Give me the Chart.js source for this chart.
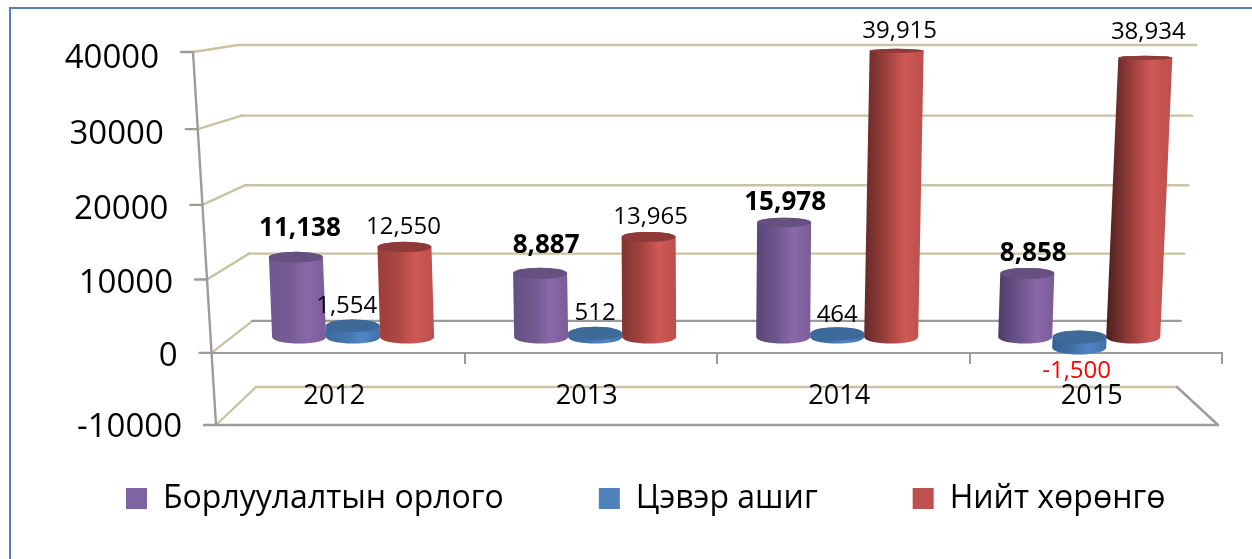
<!DOCTYPE html>
<html>
<head>
<meta charset="utf-8">
<style>
html,body{margin:0;padding:0;background:#fff;overflow:hidden}
#stage{position:relative;width:1252px;height:559px}
#frame{position:absolute;left:9px;top:7px;right:-5px;bottom:-5px;border-left:2px solid #4f81bd;border-top:2px solid #4f81bd}
canvas{position:absolute;left:0;top:0}
</style>
<script src="https://cdn.jsdelivr.net/npm/chart.js@4/dist/chart.umd.js"></script>
</head>
<body>
<div id="stage"><div id="frame"></div><canvas id="c" width="1252" height="559"></canvas></div>
<script>
const categories = ['2012', '2013', '2014', '2015'];
const salesRevenue = [11138, 8887, 15978, 8858];
const netProfit = [1554, 512, 464, -1500];
const totalAssets = [12550, 13965, 39915, 38934];
const seriesNames = ['Борлуулалтын орлого', 'Цэвэр ашиг', 'Нийт хөрөнгө'];
const seriesColors = ['#8064a2', '#4f81bd', '#c0504d'];
const yTicksMin = -10000, yTicksMax = 40000, yStep = 10000;

const FONT = '"Open Sans", sans-serif';
const OLIVE = '#c9c3a3', GRAY = '#9b9b9b';

// Front plane of the 3-D box: ticks bow slightly under perspective.
class PerspectiveScale extends Chart.LinearScale {
  getPixelForValue(v) {
    const p = super.getPixelForValue(v);
    const t = (p - this.top) / this.height;
    return p + 15.5 * t * (1 - t);
  }
}
PerspectiveScale.id = 'perspective';
PerspectiveScale.defaults = Chart.LinearScale.defaults;
Chart.register(PerspectiveScale);

// Plain bar rectangles are replaced by the cylinders drawn in the plugin.
Chart.BarElement.prototype.draw = function () {};

const frontX = p => 193 + (p - 52) * 23 / 373;
const backY = p => 45 + (p - 52) * 342 / 373;
const backLeft = y => 238 + (y - 45) * 18 / 342;
const backRight = y => 1196 - (y - 45) * 19 / 342;

function line(ctx, x1, y1, x2, y2, color) {
  ctx.strokeStyle = color;
  ctx.lineWidth = 2.4;
  ctx.beginPath();
  ctx.moveTo(x1, y1);
  ctx.lineTo(x2, y2);
  ctx.stroke();
}
function mix(a, b, t) {
  const v = a.map((c, i) => Math.round(c + (b[i] - c) * t));
  return 'rgb(' + v.join(',') + ')';
}
const shades = [
  { l: [112, 88, 143], d: [72, 56, 100], m: [118, 92, 148], h: [138, 104, 169], e: [122, 92, 152], top: '#66507f' },
  { l: [58, 106, 158], d: [50, 96, 148], m: [68, 118, 176], h: [79, 134, 198], e: [63, 112, 168], top: '#3d6a99' },
  { l: [168, 67, 63], d: [74, 30, 30], m: [176, 72, 68], h: [207, 88, 85], e: [187, 79, 76], top: '#8e3a38' }
];
const ry = y => Math.max(2, 2 + (y - 50) * 0.016);

function drawCylinder(ctx, el, s) {
  const y0 = Math.min(el.y, el.base), y1 = Math.max(el.y, el.base);
  const hw = el.width / 2;
  const lean = (el.x - 700) * 1e-4 * (y1 - y0);
  const bx = el.x, tx = el.x + lean;
  const t = Math.min(1, Math.max(0, (el.x - 300) / 834));
  const g = ctx.createLinearGradient(Math.min(bx, tx) - hw, 0, Math.max(bx, tx) + hw, 0);
  g.addColorStop(0, mix(s.l, s.d, t));
  g.addColorStop(0.38, mix(s.m, s.d, t * 0.25));
  g.addColorStop(0.68, mix(s.h, s.h, 0));
  g.addColorStop(1, mix(s.e, s.e, 0));
  ctx.fillStyle = g;
  ctx.beginPath();
  ctx.moveTo(tx - hw, y0);
  ctx.lineTo(bx - hw, y1);
  ctx.ellipse(bx, y1, hw, ry(y1), 0, Math.PI, 0, true);
  ctx.lineTo(tx + hw, y0);
  ctx.ellipse(tx, y0, hw, ry(y0), 0, 0, Math.PI, true);
  ctx.closePath();
  ctx.fill();
  ctx.fillStyle = s.top;
  ctx.beginPath();
  ctx.ellipse(tx, y0, hw, ry(y0), 0, 0, Math.PI * 2);
  ctx.fill();
  return { tx, y0, y1 };
}

// [series][category] extra offset of a value label from its default place
const labelNudge = [
  [[4, -9], [6, -8], [1, 0], [6, 0]],
  [[-6, 0], [0, 0], [0, 1], [-3, 0]],
  [[-1, 0], [2, 0], [3, 0], [3, -6]]
];

const boxPlugin = {
  id: 'box3d',
  beforeLayout(chart) {
    const l = chart.legend;
    if (l && !l._wrapped) {
      l._wrapped = true;
      const fit = l.fit;
      l.fit = function () { this.maxWidth = 5000; fit.call(this); this.height = 0; };
    }
  },
  afterLayout(chart) {
    const l = chart.legend, pad = l.options.labels.padding;
    l.left = 126 - pad;
    l.right = chart.width + 300;
    l.width = l.right - l.left;
    l.top = 482.5 - pad;
    l.bottom = chart.height;
    l.height = l.bottom - l.top;
  },
  beforeDraw(chart) {
    const ctx = chart.ctx, y = chart.scales.y, area = chart.chartArea;
    ctx.save();
    ctx.lineCap = 'round';
    const ticks = y.ticks.map(t => t.value);
    const top = y.getPixelForValue(yTicksMax), bot = y.getPixelForValue(yTicksMin);
    ticks.forEach(v => {
      const p = y.getPixelForValue(v), fx = frontX(p), by = backY(p);
      line(ctx, fx, p, backLeft(by), by, OLIVE);
      line(ctx, backLeft(by), by, backRight(by), by, v === 0 ? GRAY : OLIVE);
      line(ctx, fx - 12, p, fx, p, GRAY);
    });
    const bb = backY(bot);
    line(ctx, backRight(bb), bb, area.right - 4, bot, GRAY);
    line(ctx, frontX(bot), bot, area.right - 4, bot, GRAY);
    line(ctx, frontX(top), top, frontX(bot), bot, GRAY);
    ctx.restore();
    y.getLabelItems(area).forEach((item, i) => {
      const p = y.getPixelForTick(i);
      item.options.textAlign = 'right';
      item.options.translation = [frontX(p) - 34, p + 6.5 - (p - 52) * 4 / 373];
    });
  },
  afterDatasetsDraw(chart) {
    const ctx = chart.ctx;
    const places = [];
    chart.data.datasets.forEach((ds, d) => {
      chart.getDatasetMeta(d).data.forEach((el, i) => {
        const c = drawCylinder(ctx, el, shades[d]);
        places.push({ d, i, c, v: ds.data[i].y });
      });
    });
    ctx.save();
    ctx.textAlign = 'center';
    ctx.textBaseline = 'middle';
    places.forEach(({ d, i, c, v }) => {
      const n = labelNudge[d][i];
      ctx.font = (d === 0 ? 'bold 26px ' : '24px ') + FONT;
      ctx.fillStyle = v < 0 ? '#ff0000' : '#000';
      const yy = v < 0 ? c.y1 + 23 : c.y0 - 20;
      ctx.fillText(v.toLocaleString('en-US'), c.tx + n[0], yy + n[1]);
    });
    ctx.restore();
  }
};

const barValues = [salesRevenue, netProfit, totalAssets];

new Chart(document.getElementById('c'), {
  type: 'bar',
  plugins: [boxPlugin],
  data: {
    labels: categories,
    datasets: seriesNames.map((name, s) => ({
      label: name,
      backgroundColor: seriesColors[s],
      borderWidth: 0,
      xAxisID: 'xBar',
      yAxisID: 'yBar',
      barThickness: 54,
      data: barValues[s].map((v, i) => ({ x: i + 1, y: v }))
    }))
  },
  options: {
    responsive: false,
    animation: false,
    events: [],
    layout: { padding: { top: 52, right: 30, bottom: 134, left: 0 } },
    plugins: {
      tooltip: { enabled: false },
      legend: {
        position: 'bottom',
        align: 'start',
        labels: {
          boxWidth: 21,
          boxHeight: 21,
          padding: 95,
          color: '#000',
          font: { family: FONT, size: 32 }
        }
      }
    },
    scales: {
      y: {
        type: 'perspective',
        position: 'left',
        min: yTicksMin,
        max: yTicksMax,
        afterFit(s) { s.width = 212; },
        grid: { display: false },
        border: { display: false },
        ticks: {
          stepSize: yStep,
          autoSkip: false,
          color: '#000',
          font: { family: FONT, size: 33 },
          callback: v => String(v)
        }
      },
      x: {
        type: 'category',
        position: { y: 0 },
        offset: true,
        grid: { offset: true, drawOnChartArea: false, drawTicks: true, tickLength: 10, color: GRAY, lineWidth: 2 },
        border: { display: true, color: GRAY, width: 2 },
        ticks: {
          color: '#000',
          padding: 17,
          labelOffset: -4,
          maxRotation: 0,
          font: { family: FONT, size: 27 }
        }
      },
      xBar: {
        type: 'linear',
        display: false,
        offset: false,
        min: 0.417,
        max: 4.59,
        grid: { offset: false },
        ticks: { stepSize: 1, includeBounds: false }
      },
      yBar: {
        type: 'linear',
        display: false,
        min: -12273,
        max: 39749
      }
    }
  }
});
</script>
</body>
</html>
